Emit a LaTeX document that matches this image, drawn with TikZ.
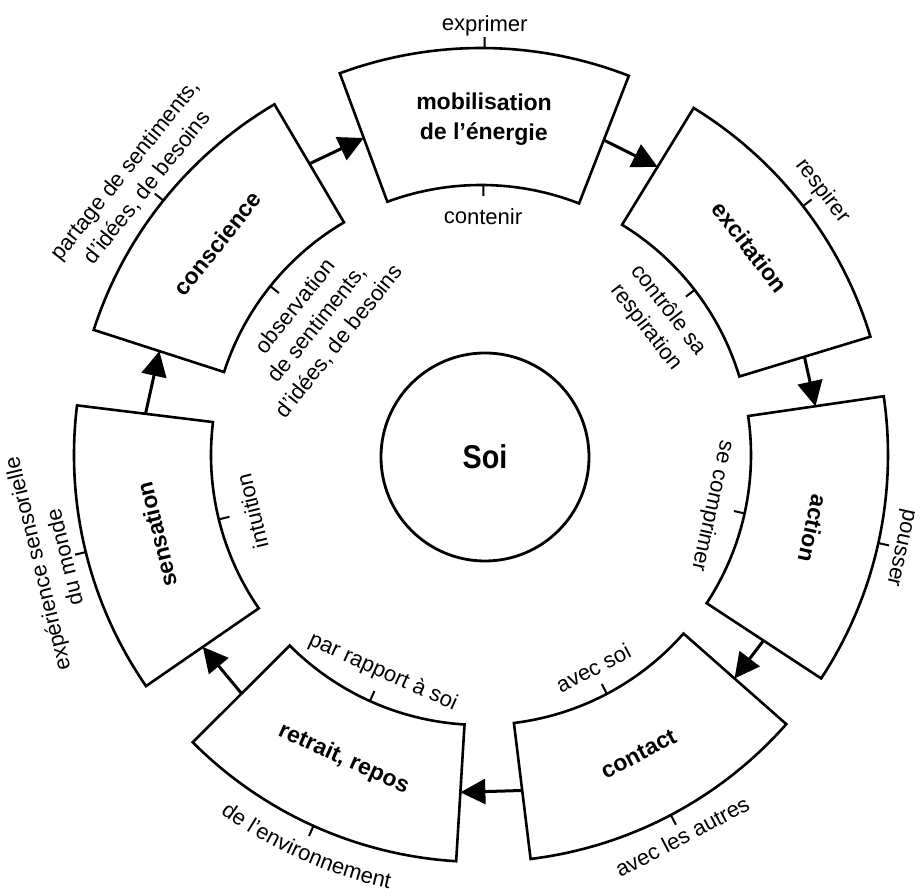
\documentclass[tikz,border=0pt]{standalone}
\usepackage{fontspec}
\setmainfont{Liberation Sans}
\usetikzlibrary{arrows.meta,decorations.text}
\newcommand{\labfont}{\fontsize{22}{28}\selectfont}
\newcommand{\boxfont}{\fontsize{23}{30}\selectfont\bfseries}
\begin{document}
\begin{tikzpicture}[x=1pt,y=1pt,
  sector/.style={draw, line width=2.6pt, line join=miter},
  tickmark/.style={line width=2pt},
  flow/.style={line width=3pt, -{Triangle[length=25pt,width=25pt]}},
  lab/.style={font=\labfont, inner sep=0pt, align=center},
  boxlab/.style={font=\boxfont, inner sep=0pt, align=center}]
\useasboundingbox (0,0) rectangle (921,896);
\fill[white] (0,0) rectangle (921,896);
\begin{scope}[shift={(481,441)}]
  % sectors, ticks, arrow anchors
  \foreach \t/\n in {89.5/m, 37.7/e, -12.5/a, -62.2/c, -114.3/r, 193.8/s, 141.3/o} {
    \draw[sector] (\t+20.8:407) arc[start angle=\t+20.8, end angle=\t-20.8, radius=407pt]
      -- (\t-20.8:270) arc[start angle=\t-20.8, end angle=\t+20.8, radius=270pt] -- cycle;
    \draw[tickmark] (\t:407) -- (\t:418);
    \draw[tickmark] (\t:270) -- (\t:259);
    \coordinate (\n-l) at (\t+20.8:338);
    \coordinate (\n-r) at (\t-20.8:338);
  }
  % centre
  \node[circle, draw, line width=2.8pt, minimum size=208pt, inner sep=0pt,
        font=\fontsize{33}{36}\selectfont\bfseries] (soi) at (4,-2) {\scalebox{0.87}[1]{Soi}};
  % box titles
  \node[boxlab, rotate=-0.5]   (mob)  at (89.5:336)   {mobilisation\\de l'énergie};
  \node[boxlab, rotate=-52.3]  (exc)  at (37.7:340)   {excitation};
  \node[boxlab, rotate=-102.5] (act)  at (-12.5:340)  {action};
  \node[boxlab, rotate=27.8]   (con)  at (-62.2:338)  {contact};
  \node[boxlab, rotate=-24.3]  (ret)  at (-114.3:334) {retrait, repos};
  \node[boxlab, rotate=103.8]  (sen)  at (193.8:334)  {sensation};
  \node[boxlab, rotate=51.3]   (cons) at (141.3:338)  {conscience};
  % outer labels
  \node[lab, rotate=-0.5, anchor=south]   (lexp)  at (89.5:419)  {exprimer};
  \node[lab, rotate=-52.3, anchor=south]  (lresp) at (37.7:421)  {respirer};
  \node[lab, rotate=-102.5, anchor=south] (lpou)  at (-12.5:420) {pousser};
  \node[lab, rotate=27.8, anchor=north]   (laut)  at (-62.2:423) {avec les autres};
  \path[decorate, decoration={text along path, text align=center,
        text={|\labfont|de l'environnement}}]
    (-140:443) arc[start angle=-140, end angle=-88, radius=443pt];
  \node[lab, rotate=103.8, anchor=south]  (lexper) at (193.8:421) {expérience sensorielle\\du monde};
  \node[lab, rotate=51.3, anchor=south]   (lpart)  at (141.3:418) {partage de sentiments,\\d'idées, de besoins};
  % inner labels
  \node[lab, rotate=-0.5, anchor=north]   (icont) at (89.5:247)   {contenir};
  \node[lab, rotate=-52.3, anchor=north]  (ictrl) at (37.7:247)   {contrôle sa\\respiration};
  \node[lab, rotate=-102.5, anchor=north] (icomp) at (-12.5:247)  {se comprimer};
  \node[lab, rotate=27.8, anchor=south]   (isoi)  at (-62.2:249)  {avec soi};
  \node[lab, rotate=-24.3, anchor=south]  (irap)  at (-114.3:249) {par rapport à soi};
  \node[lab, rotate=103.8, anchor=north]  (iint)  at (193.8:244)  {intuition};
  \node[lab, rotate=51.3, anchor=north]   (iobs)  at (141.3:247)  {observation\\de sentiments,\\d'idées, de besoins};
  % flow arrows
  \draw[flow] (m-r) -- (e-l);
  \draw[flow] (e-r) -- (a-l);
  \draw[flow] (a-r) -- (c-l);
  \draw[flow] (c-r) -- (r-l);
  \draw[flow] (r-r) -- (s-l);
  \draw[flow] (s-r) -- (o-l);
  \draw[flow] (o-r) -- (m-l);
\end{scope}
\end{tikzpicture}
\end{document}
